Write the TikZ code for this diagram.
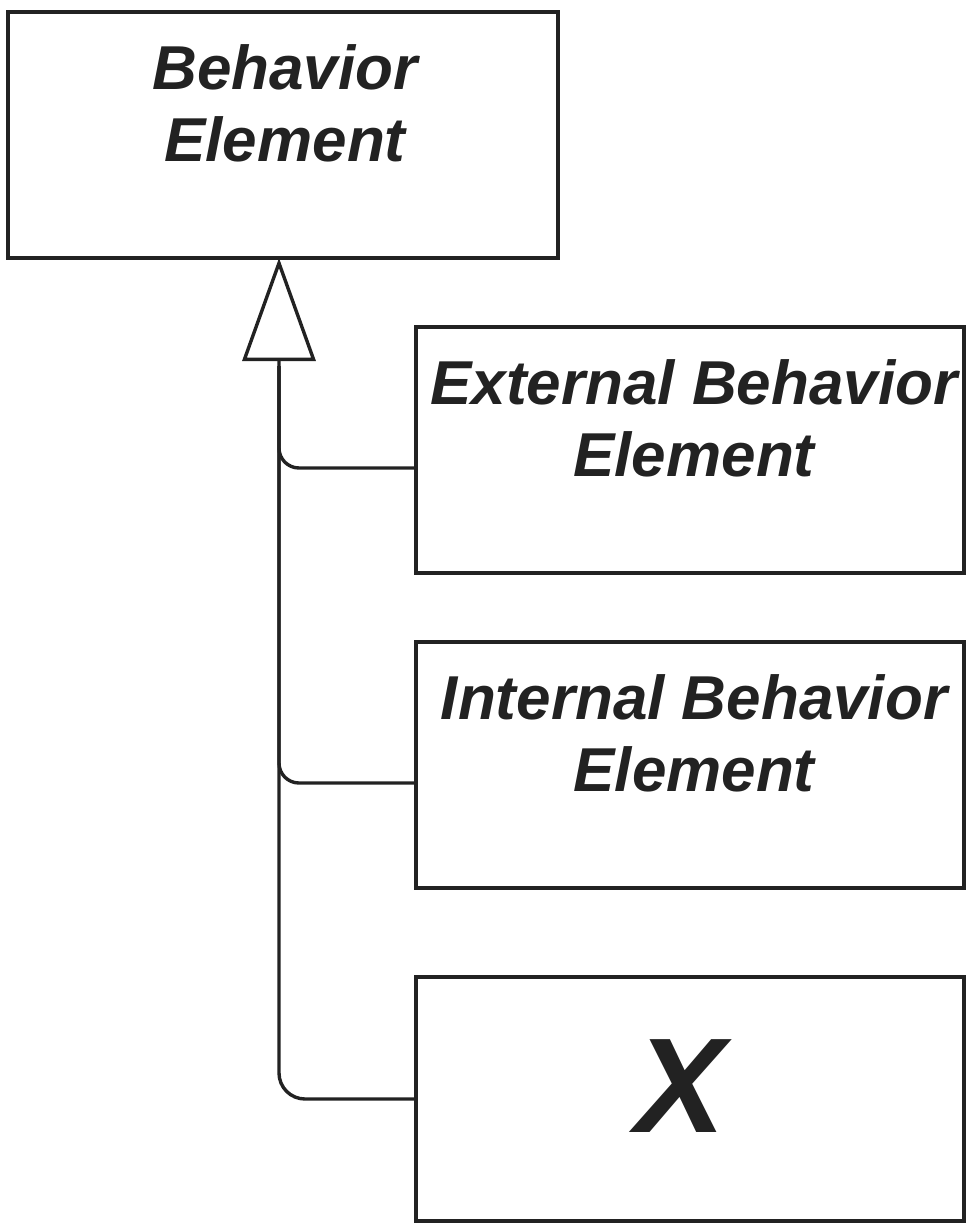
\documentclass[tikz,border=0pt]{standalone}
\usepackage{fontspec}
\setmainfont{Liberation Sans}
\usetikzlibrary{arrows.meta}
\definecolor{ink}{HTML}{222222}
\begin{document}
\begin{tikzpicture}[x=1pt,y=-1pt,line width=3.4pt,draw=ink,
  box/.style={draw=ink,rectangle,inner sep=0pt,outer sep=0pt,minimum height=246pt},
  lbl/.style={align=center,inner sep=0pt,text=ink,font=\fontsize{62}{72}\selectfont\bfseries\itshape},
  conn/.style={draw=ink,line width=3.4pt}]
\useasboundingbox (0,0) rectangle (969,1224);
\node[box,minimum width=550pt] (top) at (283,135) {};
\node[box,minimum width=548pt] (ext) at (690,450) {};
\node[box,minimum width=548pt] (int) at (690,765) {};
\node[box,minimum width=548pt,minimum height=244pt] (xbox) at (690,1099) {};
\node[lbl,anchor=north] (toplbl) at ([xshift=2pt,yshift=-31pt]top.north) {Behavior\\Element};
\node[lbl,anchor=north] (extlbl) at ([xshift=4pt,yshift=-31pt]ext.north) {External Behavior\\Element};
\node[lbl,anchor=north] (intlbl) at ([xshift=4pt,yshift=-31pt]int.north) {Internal Behavior\\Element};
\node[inner sep=0pt,text=ink,anchor=base,font=\fontsize{135}{135}\selectfont\bfseries\itshape] (xlbl) at ([xshift=-9pt,yshift=-33pt]xbox.center) {X};
\coordinate (apex) at ([xshift=-4pt]top.south);
\coordinate (spine) at ([yshift=-108pt]apex);
\draw[conn,rounded corners=26pt,-{Triangle[open,length=103pt,width=73pt]}] (xbox.west) -| (apex);
\draw[conn,rounded corners=20pt] ([yshift=-18pt]ext.west) -| (spine);
\draw[conn,rounded corners=20pt] ([yshift=-18pt]int.west) -| (spine);
\end{tikzpicture}
\end{document}
